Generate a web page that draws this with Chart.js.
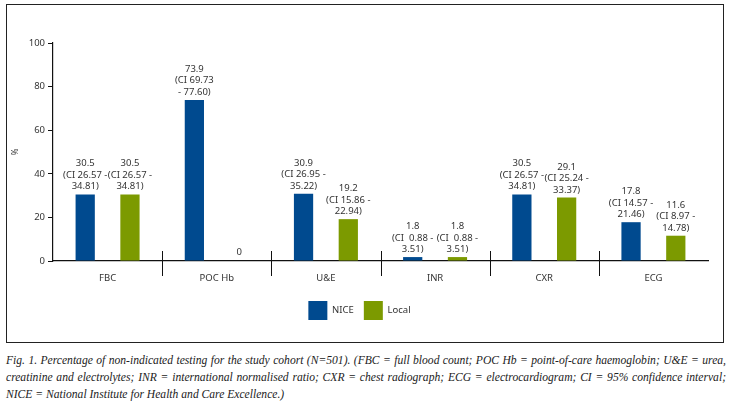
<!DOCTYPE html>
<html><head><meta charset="utf-8">
<script src="https://cdn.jsdelivr.net/npm/chart.js@4.4.1/dist/chart.umd.min.js"></script>
<style>
body{margin:0;background:#fff;width:737px;height:403px;overflow:hidden;font-family:"Noto Sans",sans-serif}
#box{position:absolute;left:6px;top:4px;width:716px;height:337px;border:1.5px solid #222}
#box canvas{position:absolute;left:0;top:0}
#cap{position:absolute;left:6px;top:352px;width:720px;font-family:"Liberation Serif",serif;font-style:italic;font-size:11.6px;line-height:17px;color:#222;text-align:justify}
</style></head><body>
<div id="box"><canvas id="c" width="716" height="337"></canvas></div>
<div id="cap">Fig. 1. Percentage of non-indicated testing for the study cohort (N=501). (FBC = full blood count; POC Hb = point-of-care haemoglobin; U&amp;E = urea, creatinine and electrolytes; INR = international normalised ratio; CXR = chest radiograph; ECG = electrocardiogram; CI = 95% confidence interval; NICE = National Institute for Health and Care Excellence.)</div>
<script>
const categories=["FBC","POC Hb","U&E","INR","CXR","ECG"];
const niceValues=[30.5,73.9,30.9,1.8,30.5,17.8];
const localValues=[30.5,0,19.2,1.8,29.1,11.6];
const niceLabels=[["30.5","(CI 26.57 -","34.81)"],["73.9","(CI 69.73","- 77.60)"],["30.9","(CI 26.95 -","35.22)"],["1.8","(CI  0.88 -","3.51)"],["30.5","(CI 26.57 -","34.81)"],["17.8","(CI 14.57 -","21.46)"]];
const localLabels=[["30.5","(CI 26.57 -","34.81)"],["0"],["19.2","(CI 15.86 -","22.94)"],["1.8","(CI  0.88 -","3.51)"],["29.1","(CI 25.24 -","33.37)"],["11.6","(CI 8.97 -","14.78)"]];
const yTicks=[0,20,40,60,80,100];
const txt='#333';
const labelPlugin={id:'lbl',afterDatasetsDraw(ch){
  const ctx=ch.ctx;ctx.save();ctx.fillStyle=txt;ctx.font='9.5px "Noto Sans"';ctx.textAlign='center';ctx.textBaseline='bottom';
  [niceLabels,localLabels].forEach((L,di)=>{
    ch.getDatasetMeta(di).data.forEach((b,i)=>{
      const lines=L[i];const base=lines.length===1?b.y-4:b.y-3;
      lines.forEach((s,k)=>ctx.fillText(s,b.x,base-(lines.length-1-k)*11.5));
    });
  });
  const xs=ch.scales.x,a=ch.chartArea;ctx.strokeStyle='#111';ctx.lineWidth=1;
  for(let i=1;i<categories.length;i++){const x=Math.round((xs.getPixelForValue(i-1)+xs.getPixelForValue(i))/2)+0.5;
    ctx.beginPath();ctx.moveTo(x,a.bottom-10);ctx.lineTo(x,a.bottom+15);ctx.stroke();}
  ctx.restore();}};
new Chart(document.getElementById('c'),{type:'bar',
 data:{labels:categories,datasets:[
  {label:'NICE',data:niceValues,backgroundColor:'#004a8f'},
  {label:'Local',data:localValues,backgroundColor:'#7c9a00'}]},
 options:{responsive:false,animation:false,
  layout:{padding:{top:38,right:15,left:4,bottom:12}},
  categoryPercentage:0.82,barPercentage:0.43,
  plugins:{tooltip:{enabled:false},
   legend:{position:'bottom',labels:{boxWidth:19,boxHeight:19,color:txt,font:{family:'Noto Sans',size:9.5},padding:10}}},
  scales:{
   x:{grid:{display:false},border:{color:'#111',width:1.2},ticks:{color:txt,font:{family:'Noto Sans',size:9.5},padding:4},afterFit(s){s.height=30}},
   y:{min:0,max:100,ticks:{stepSize:20,color:txt,font:{family:'Noto Sans',size:9.5},padding:3},
      grid:{drawOnChartArea:false,color:'#111',tickLength:5},border:{color:'#111',width:1.2},
      title:{display:true,text:'%',color:txt,font:{family:'Noto Sans',size:8},padding:0},afterFit(s){s.width=42}}
  }},
 plugins:[labelPlugin]});
</script></body></html>
